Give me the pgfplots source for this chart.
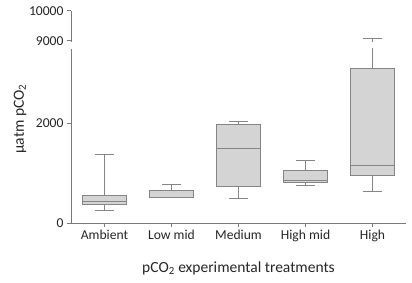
\documentclass[border=0pt]{standalone}
\usepackage{fontspec}
\setmainfont{Carlito}
\usepackage{pgfplots}
\pgfplotsset{compat=1.18}
\definecolor{boxfill}{HTML}{D4D4D4}
\definecolor{boxline}{HTML}{858585}
\definecolor{axline}{HTML}{7A7A7A}
\definecolor{txt}{HTML}{262626}
\pgfplotsset{
  common/.style={
    scale only axis, width=335pt,
    xmin=-0.5, xmax=4.5,
    axis line style={axline, line width=0.9pt},
    tick style={axline, line width=0.9pt},
    tick align=outside, major tick length=4pt,
    ticklabel style={font=\fontsize{13.6}{13.6}\selectfont, text=txt},
    scaled y ticks=false,
  },
  bx/.style={draw=boxline, fill=boxfill, line width=0.9pt, mark=none},
  wl/.style={draw=boxline, line width=0.9pt, mark=none},
}
\begin{document}
\begin{tikzpicture}
\path (-71pt,-60pt) rectangle (341pt,223pt);
% lower axis
\begin{axis}[common, at={(0pt,0pt)}, anchor=south west, height=174pt,
  ymin=0, ymax=3500,
  axis x line*=bottom, axis y line*=left,
  xtick={0,1,2,3,4},
  xticklabels={Ambient, Low mid, Medium, High mid, High},
  ytick={0,2000}, yticklabels={0,2000},
  x tick label style={yshift=0pt},
]
% Ambient
\addplot[wl] coordinates {(0,550) (0,1382)};
\addplot[wl] coordinates {(0,382) (0,262)};
\addplot[wl] coordinates {(-0.145,1382) (0.145,1382)};
\addplot[wl] coordinates {(-0.145,262) (0.145,262)};
\addplot[bx] coordinates {(-0.325,382) (0.325,382) (0.325,550) (-0.325,550)} -- cycle;
\addplot[wl] coordinates {(-0.325,443) (0.325,443)};
% Low mid
\addplot[wl] coordinates {(1,664) (1,785)};
\addplot[wl] coordinates {(0.855,785) (1.145,785)};
\addplot[bx] coordinates {(0.675,517) (1.325,517) (1.325,664) (0.675,664)} -- cycle;
\addplot[wl] coordinates {(0.675,523) (1.325,523)};
% Medium
\addplot[wl] coordinates {(2,1986) (2,2046)};
\addplot[wl] coordinates {(2,744) (2,489)};
\addplot[wl] coordinates {(1.855,2046) (2.145,2046)};
\addplot[wl] coordinates {(1.855,489) (2.145,489)};
\addplot[bx] coordinates {(1.675,744) (2.325,744) (2.325,1986) (1.675,1986)} -- cycle;
\addplot[wl] coordinates {(1.675,1503) (2.325,1503)};
% High mid
\addplot[wl] coordinates {(3,1060) (3,1254)};
\addplot[wl] coordinates {(3,811) (3,758)};
\addplot[wl] coordinates {(2.855,1254) (3.145,1254)};
\addplot[wl] coordinates {(2.855,758) (3.145,758)};
\addplot[bx] coordinates {(2.675,811) (3.325,811) (3.325,1060) (2.675,1060)} -- cycle;
\addplot[wl] coordinates {(2.675,865) (3.325,865)};
% High
\addplot[wl] coordinates {(4,3113) (4,9090)};
\addplot[wl] coordinates {(4,952) (4,630)};
\addplot[wl] coordinates {(3.855,630) (4.145,630)};
\addplot[bx] coordinates {(3.675,952) (4.325,952) (4.325,3113) (3.675,3113)} -- cycle;
\addplot[wl] coordinates {(3.675,1161) (4.325,1161)};
\end{axis}
% upper axis
\begin{axis}[common, at={(0pt,181.4pt)}, anchor=south west, height=30.9pt,
  ymin=8970, ymax=10000,
  axis x line=none, axis y line*=left,
  xtick=\empty,
  ytick={9000,10000}, yticklabels={9000,10000},
]
\addplot[wl] coordinates {(4,3113) (4,9090)};
\addplot[wl] coordinates {(3.855,9090) (4.145,9090)};
\end{axis}
\node[rotate=90, text=txt, font=\fontsize{15.5}{15.5}\selectfont] at (-51pt,104pt) {µatm pCO\textsubscript{2}};
\node[text=txt, font=\fontsize{15.5}{15.5}\selectfont] at (167.5pt,-45pt) {pCO\textsubscript{2} experimental treatments};
\end{tikzpicture}
\end{document}
